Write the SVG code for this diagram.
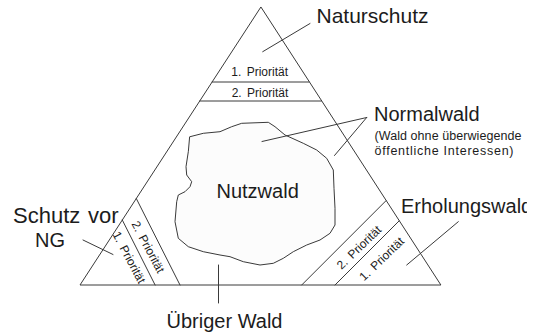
<svg xmlns="http://www.w3.org/2000/svg" width="542" height="333" viewBox="0 0 542 333">
<defs>
<style>
.ln{fill:none;stroke:#3a3a3a;stroke-width:1;stroke-linejoin:round;stroke-linecap:round}
.big{font-family:"Liberation Sans",Arial,sans-serif;font-size:20px;fill:#1c1c1c}
.sm{font-family:"Liberation Sans",Arial,sans-serif;font-size:12px;fill:#1c1c1c;word-spacing:2px}
.sub{font-family:"Liberation Sans",Arial,sans-serif;font-size:12.5px;fill:#1c1c1c}
</style>
<clipPath id="rclip"><rect x="0" y="0" width="527" height="333"/></clipPath>
</defs>
<rect x="0" y="0" width="542" height="333" fill="#ffffff"/>

<g id="triangle">
<polygon class="ln" points="260.7,7.3 80,285 440.5,285"/>
</g>

<g id="nutzwald">
<path class="ln" style="fill:#fcfcfc" d="M190,136.7 L203.3,133.3 L220,131.7 L231.7,126.7 L241.7,123.3 L268.3,122.3 L275,126.7 L285,135 L303.3,143.3 L316.7,150 L326.7,158.3 L333.3,170 L334,188.3 L335,208.3 L335,225 L330,233.3 L320,240 L306.7,245 L293.3,251.7 L283.3,258.3 L273.3,263.3 L260,265 L243.3,261.7 L230,256.7 L220,255 L203.3,251.7 L188.3,246.7 L178.3,238.3 L175,221.7 L176.7,201.7 L178.3,195 L185,191.7 L190,186.7 L191.7,181.7 L186.7,175 L186,166.7 L188.3,151.7 Z"/>
<text class="big" x="216.5" y="197.5">Nutzwald</text>
</g>

<g id="naturschutz">
<line class="ln" x1="212.1" y1="82" x2="309.1" y2="82"/>
<line class="ln" x1="199.7" y1="101" x2="321.4" y2="101"/>
<text class="sm" x="259.7" y="76" text-anchor="middle">1. Priorität</text>
<text class="sm" x="260" y="96.5" text-anchor="middle">2. Priorität</text>
<text class="big" x="316.5" y="23" style="font-size:21px">Naturschutz</text>
</g>

<g id="normalwald">
<text class="big" x="374" y="120.5">Normalwald</text>
<text class="sub" x="374.5" y="140" textLength="147" lengthAdjust="spacing">(Wald ohne überwiegende</text>
<text class="sub" x="374.5" y="155" textLength="139" lengthAdjust="spacing">öffentliche Interessen)</text>
</g>

<g id="schutz-vor-ng">
<line class="ln" x1="122.3" y1="220" x2="155.1" y2="285"/>
<line class="ln" x1="136.3" y1="198.5" x2="180" y2="285"/>
<text class="sm" transform="translate(129,257.5) rotate(62)" x="0" y="4" text-anchor="middle">1. Priorität</text>
<text class="sm" transform="translate(148,247) rotate(62)" x="0" y="4" text-anchor="middle">2. Priorität</text>
<text class="big" x="13" y="222.5" style="font-size:22px">Schutz <tspan x="88">vor</tspan></text>
<text class="big" x="35" y="246.5">NG</text>
</g>

<g id="erholungswald">
<line class="ln" x1="301.7" y1="285" x2="386" y2="200.7"/>
<line class="ln" x1="335" y1="285" x2="399.1" y2="220.9"/>
<text class="sm" transform="translate(359,247.5) rotate(-44)" x="0" y="4" text-anchor="middle">2. Priorität</text>
<text class="sm" transform="translate(381.7,259) rotate(-44)" x="0" y="4" text-anchor="middle">1. Priorität</text>
<text class="big" x="401" y="213" clip-path="url(#rclip)">Erholungswald</text>
</g>

<g id="uebriger-wald">
<text class="big" x="166.5" y="328">Übriger Wald</text>
</g>

<g id="connectors">
<line class="ln" x1="310" y1="23.5" x2="262.7" y2="51.7"/>
<line class="ln" x1="366.7" y1="117.5" x2="262" y2="141.5"/>
<line class="ln" x1="366.7" y1="117.5" x2="334.5" y2="155.5"/>
<line class="ln" x1="458.3" y1="221.7" x2="406.7" y2="265"/>
<line class="ln" x1="83" y1="240" x2="113" y2="254.5"/>
<line class="ln" x1="218.5" y1="265" x2="218.5" y2="303"/>
</g>
</svg>
